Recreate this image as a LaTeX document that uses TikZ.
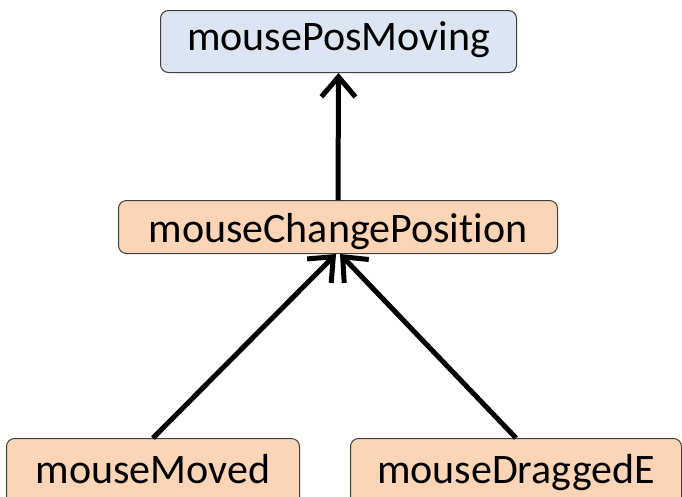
\documentclass[tikz,border=0pt]{standalone}
\usepackage{fontspec}
\setmainfont{Carlito}[Ligatures=NoCommon]
\usetikzlibrary{arrows.meta}
\definecolor{topfill}{HTML}{DCE6F2}
\definecolor{peachfill}{HTML}{FBD5B5}
\definecolor{boxline}{HTML}{404040}
\begin{document}
\begin{tikzpicture}[x=1pt,y=1pt,
  box/.style={draw=boxline, line width=1pt, rounded corners=8pt, inner xsep=0pt, inner ysep=0pt,
    font=\fontsize{42}{50}\selectfont, align=center, anchor=north west},
  bluebox/.style={box, fill=topfill},
  peachbox/.style={box, fill=peachfill},
  conn/.style={line width=5pt, -{Straight Barb[length=20pt,width=34pt]}}
]
\useasboundingbox (0,0) rectangle (682,-496);
\clip (0,0) rectangle (682,-496);
\node[bluebox, minimum width=356pt, text height=40pt, text depth=22pt] (pm) at (160,-10) {mousePosMoving};
\node[peachbox, minimum width=439pt, text height=41.7pt, text depth=11.3pt] (cp) at (118,-200) {mouseChangePosition};
\node[peachbox, minimum width=293pt, text height=45pt, text depth=25pt] (mm) at (6,-438) {mouseMoved};
\node[peachbox, minimum width=331pt, text height=45pt, text depth=25pt] (md) at (350,-438) {mouseDraggedE};
\draw[conn] (cp.north) -- (pm.south);
\draw[conn] (mm.north) -- ([xshift=-2pt]cp.south);
\draw[conn] (md.north) -- ([xshift=2pt]cp.south);
\end{tikzpicture}
\end{document}
